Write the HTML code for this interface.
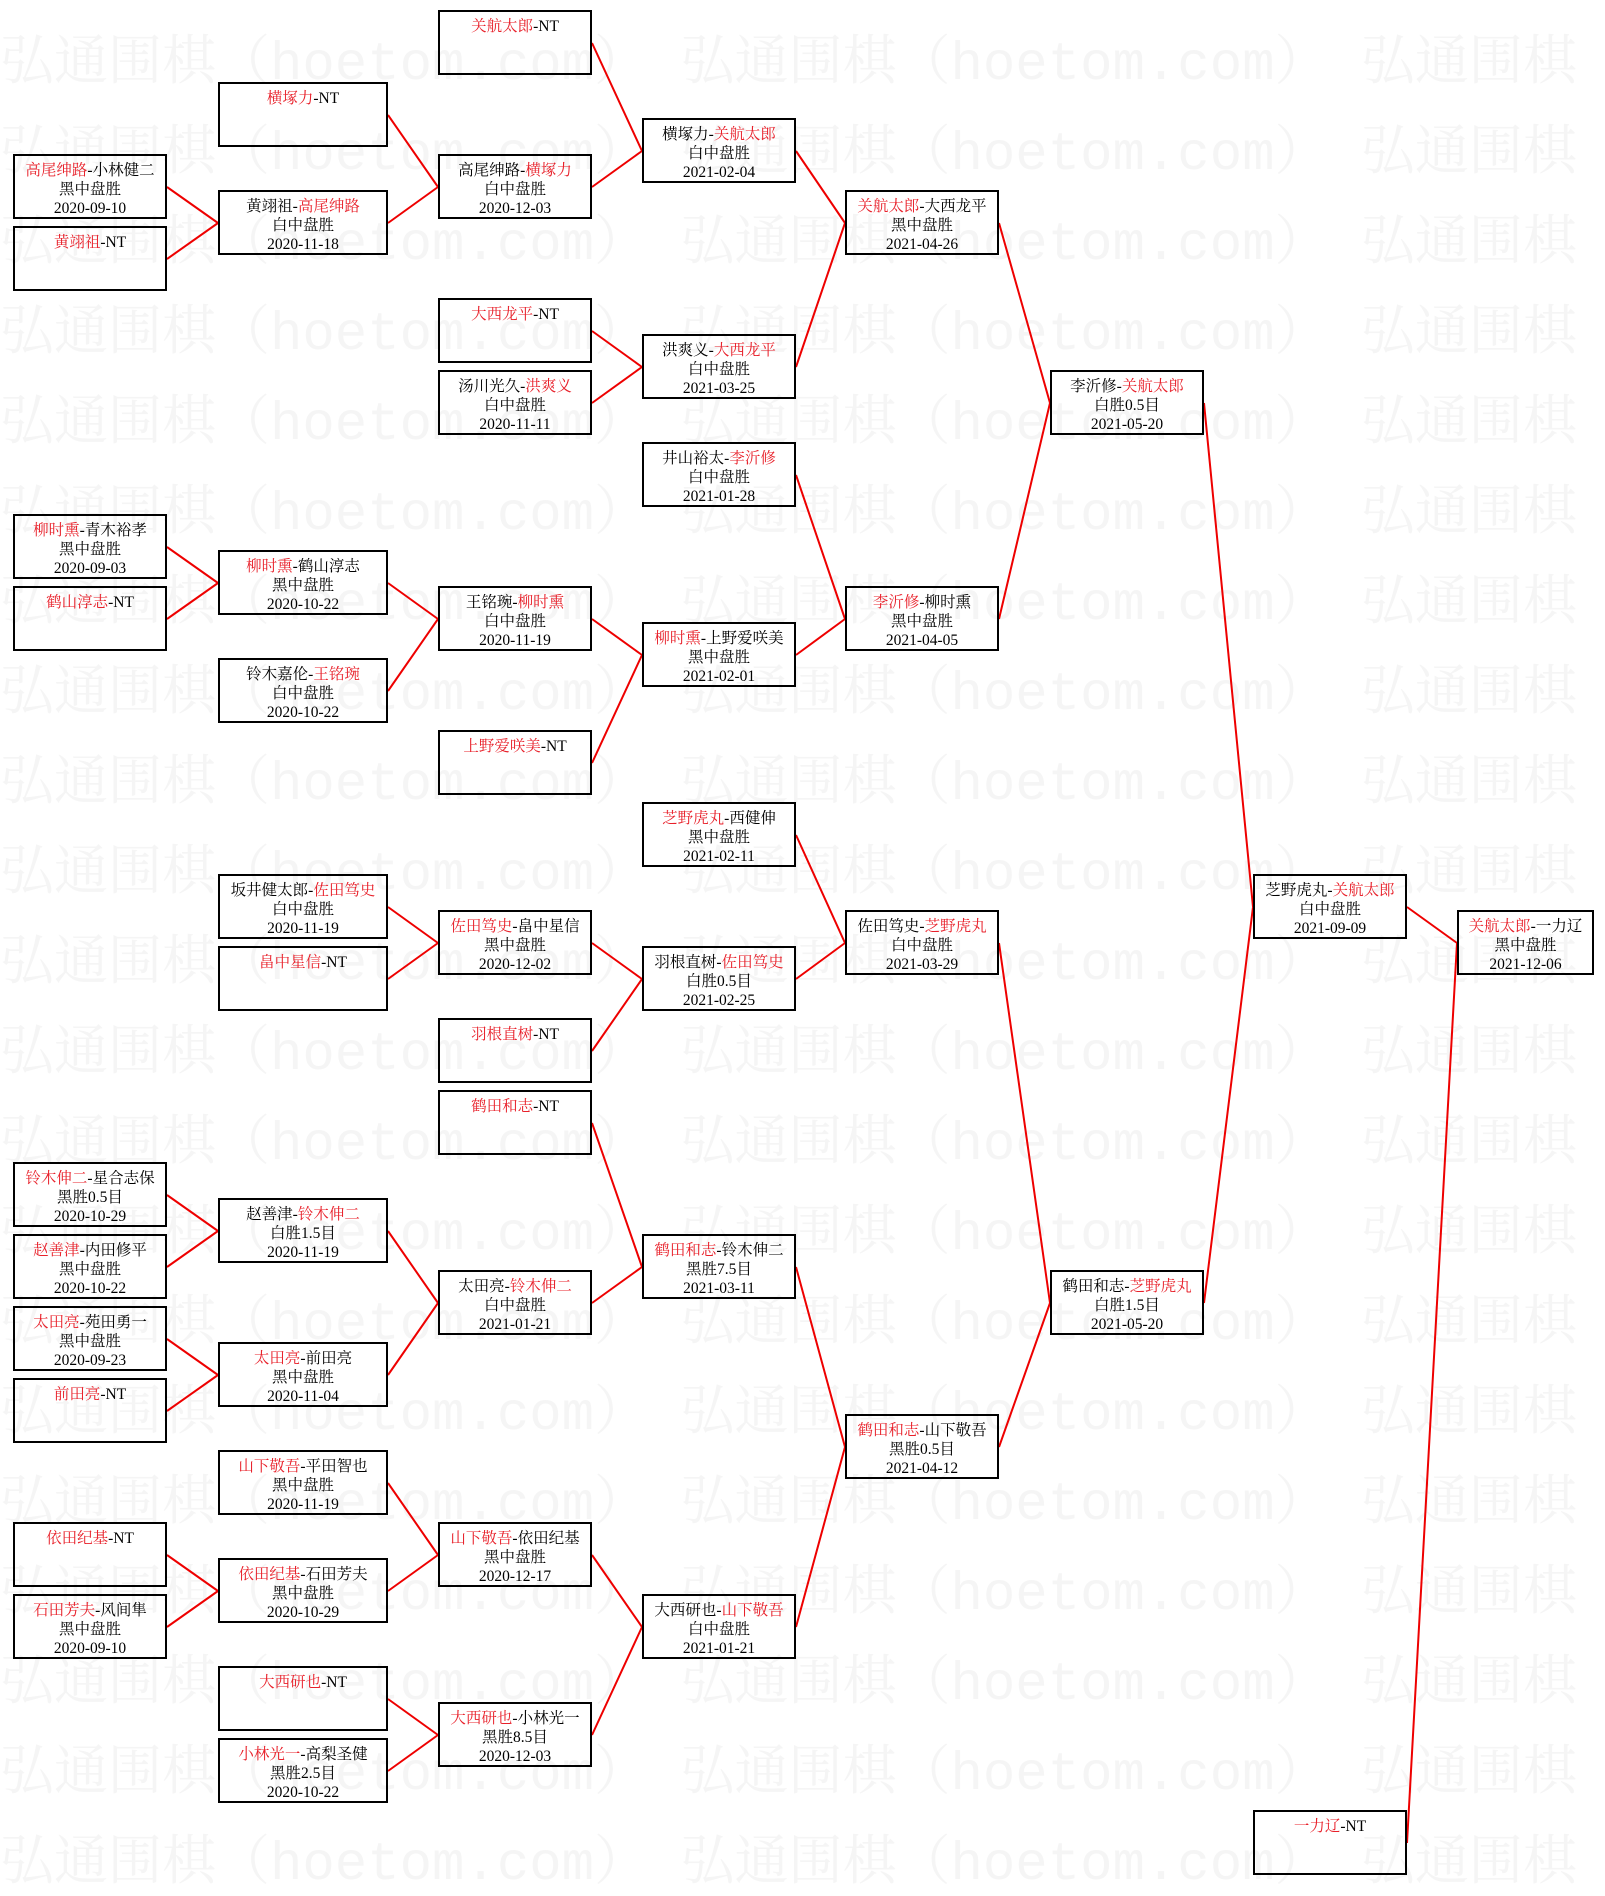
<!DOCTYPE html>
<html><head><meta charset="utf-8"><style>
body{margin:0;width:1605px;height:1885px;background:#fff;position:relative;overflow:hidden;font-family:"Liberation Serif","Noto Serif CJK SC",serif;}
.w{position:absolute;left:0;font-family:"Liberation Mono","Noto Serif CJK SC",monospace;font-size:54px;color:#f5f5f5;white-space:nowrap;line-height:60px;}
.b{position:absolute;width:150px;border:2px solid #000;text-align:center;font-size:15.5px;line-height:19px;padding-top:5px;height:56px;}
.b.n{width:133px}
.b.m{width:166px}
.r{color:#e8202a}
svg{position:absolute;left:0;top:0}
</style></head><body>
<div class="w" style="top:36px">弘通围棋（hoetom.com） 弘通围棋（hoetom.com） 弘通围棋（hoetom.com）</div>
<div class="w" style="top:126px">弘通围棋（hoetom.com） 弘通围棋（hoetom.com） 弘通围棋（hoetom.com）</div>
<div class="w" style="top:216px">弘通围棋（hoetom.com） 弘通围棋（hoetom.com） 弘通围棋（hoetom.com）</div>
<div class="w" style="top:306px">弘通围棋（hoetom.com） 弘通围棋（hoetom.com） 弘通围棋（hoetom.com）</div>
<div class="w" style="top:396px">弘通围棋（hoetom.com） 弘通围棋（hoetom.com） 弘通围棋（hoetom.com）</div>
<div class="w" style="top:486px">弘通围棋（hoetom.com） 弘通围棋（hoetom.com） 弘通围棋（hoetom.com）</div>
<div class="w" style="top:576px">弘通围棋（hoetom.com） 弘通围棋（hoetom.com） 弘通围棋（hoetom.com）</div>
<div class="w" style="top:666px">弘通围棋（hoetom.com） 弘通围棋（hoetom.com） 弘通围棋（hoetom.com）</div>
<div class="w" style="top:756px">弘通围棋（hoetom.com） 弘通围棋（hoetom.com） 弘通围棋（hoetom.com）</div>
<div class="w" style="top:846px">弘通围棋（hoetom.com） 弘通围棋（hoetom.com） 弘通围棋（hoetom.com）</div>
<div class="w" style="top:936px">弘通围棋（hoetom.com） 弘通围棋（hoetom.com） 弘通围棋（hoetom.com）</div>
<div class="w" style="top:1026px">弘通围棋（hoetom.com） 弘通围棋（hoetom.com） 弘通围棋（hoetom.com）</div>
<div class="w" style="top:1116px">弘通围棋（hoetom.com） 弘通围棋（hoetom.com） 弘通围棋（hoetom.com）</div>
<div class="w" style="top:1206px">弘通围棋（hoetom.com） 弘通围棋（hoetom.com） 弘通围棋（hoetom.com）</div>
<div class="w" style="top:1296px">弘通围棋（hoetom.com） 弘通围棋（hoetom.com） 弘通围棋（hoetom.com）</div>
<div class="w" style="top:1386px">弘通围棋（hoetom.com） 弘通围棋（hoetom.com） 弘通围棋（hoetom.com）</div>
<div class="w" style="top:1476px">弘通围棋（hoetom.com） 弘通围棋（hoetom.com） 弘通围棋（hoetom.com）</div>
<div class="w" style="top:1566px">弘通围棋（hoetom.com） 弘通围棋（hoetom.com） 弘通围棋（hoetom.com）</div>
<div class="w" style="top:1656px">弘通围棋（hoetom.com） 弘通围棋（hoetom.com） 弘通围棋（hoetom.com）</div>
<div class="w" style="top:1746px">弘通围棋（hoetom.com） 弘通围棋（hoetom.com） 弘通围棋（hoetom.com）</div>
<div class="w" style="top:1836px">弘通围棋（hoetom.com） 弘通围棋（hoetom.com） 弘通围棋（hoetom.com）</div>

<svg width="1605" height="1885" stroke="#e00" stroke-width="2" fill="none">
<path d="M167 187L218 223M167 259L218 223"/>
<path d="M167 547L218 583M167 619L218 583"/>
<path d="M167 1195L218 1231M167 1267L218 1231"/>
<path d="M167 1339L218 1375M167 1411L218 1375"/>
<path d="M167 1555L218 1591M167 1627L218 1591"/>
<path d="M388 115L438 187M388 223L438 187"/>
<path d="M388 583L438 619M388 691L438 619"/>
<path d="M388 907L438 943M388 979L438 943"/>
<path d="M388 1231L438 1303M388 1375L438 1303"/>
<path d="M388 1483L438 1555M388 1591L438 1555"/>
<path d="M388 1699L438 1735M388 1771L438 1735"/>
<path d="M592 43L642 151M592 187L642 151"/>
<path d="M592 331L642 367M592 403L642 367"/>
<path d="M592 619L642 655M592 763L642 655"/>
<path d="M592 943L642 979M592 1051L642 979"/>
<path d="M592 1123L642 1267M592 1303L642 1267"/>
<path d="M592 1555L642 1627M592 1735L642 1627"/>
<path d="M796 151L845 223M796 367L845 223"/>
<path d="M796 475L845 619M796 655L845 619"/>
<path d="M796 835L845 943M796 979L845 943"/>
<path d="M796 1267L845 1447M796 1627L845 1447"/>
<path d="M999 223L1050 403M999 619L1050 403"/>
<path d="M999 943L1050 1303M999 1447L1050 1303"/>
<path d="M1204 403L1253 907M1204 1303L1253 907"/>
<path d="M1407 907L1457 943M1407 1843L1457 943"/>
</svg>

<div class="b" style="left:13px;top:154px"><span class="r">高尾绅路</span>-小林健二<br>黑中盘胜<br>2020-09-10</div>
<div class="b" style="left:13px;top:226px"><span class="r">黄翊祖</span>-NT</div>
<div class="b" style="left:13px;top:514px"><span class="r">柳时熏</span>-青木裕孝<br>黑中盘胜<br>2020-09-03</div>
<div class="b" style="left:13px;top:586px"><span class="r">鹤山淳志</span>-NT</div>
<div class="b" style="left:13px;top:1162px"><span class="r">铃木伸二</span>-星合志保<br>黑胜0.5目<br>2020-10-29</div>
<div class="b" style="left:13px;top:1234px"><span class="r">赵善津</span>-内田修平<br>黑中盘胜<br>2020-10-22</div>
<div class="b" style="left:13px;top:1306px"><span class="r">太田亮</span>-苑田勇一<br>黑中盘胜<br>2020-09-23</div>
<div class="b" style="left:13px;top:1378px"><span class="r">前田亮</span>-NT</div>
<div class="b" style="left:13px;top:1522px"><span class="r">依田纪基</span>-NT</div>
<div class="b" style="left:13px;top:1594px"><span class="r">石田芳夫</span>-风间隼<br>黑中盘胜<br>2020-09-10</div>

<div class="b m" style="left:218px;top:82px"><span class="r">横塚力</span>-NT</div>
<div class="b m" style="left:218px;top:190px">黄翊祖-<span class="r">高尾绅路</span><br>白中盘胜<br>2020-11-18</div>
<div class="b m" style="left:218px;top:550px"><span class="r">柳时熏</span>-鹤山淳志<br>黑中盘胜<br>2020-10-22</div>
<div class="b m" style="left:218px;top:658px">铃木嘉伦-<span class="r">王铭琬</span><br>白中盘胜<br>2020-10-22</div>
<div class="b m" style="left:218px;top:874px">坂井健太郎-<span class="r">佐田笃史</span><br>白中盘胜<br>2020-11-19</div>
<div class="b m" style="left:218px;top:946px"><span class="r">畠中星信</span>-NT</div>
<div class="b m" style="left:218px;top:1198px">赵善津-<span class="r">铃木伸二</span><br>白胜1.5目<br>2020-11-19</div>
<div class="b m" style="left:218px;top:1342px"><span class="r">太田亮</span>-前田亮<br>黑中盘胜<br>2020-11-04</div>
<div class="b m" style="left:218px;top:1450px"><span class="r">山下敬吾</span>-平田智也<br>黑中盘胜<br>2020-11-19</div>
<div class="b m" style="left:218px;top:1558px"><span class="r">依田纪基</span>-石田芳夫<br>黑中盘胜<br>2020-10-29</div>
<div class="b m" style="left:218px;top:1666px"><span class="r">大西研也</span>-NT</div>
<div class="b m" style="left:218px;top:1738px"><span class="r">小林光一</span>-高梨圣健<br>黑胜2.5目<br>2020-10-22</div>

<div class="b" style="left:438px;top:10px"><span class="r">关航太郎</span>-NT</div>
<div class="b" style="left:438px;top:154px">高尾绅路-<span class="r">横塚力</span><br>白中盘胜<br>2020-12-03</div>
<div class="b" style="left:438px;top:298px"><span class="r">大西龙平</span>-NT</div>
<div class="b" style="left:438px;top:370px">汤川光久-<span class="r">洪爽义</span><br>白中盘胜<br>2020-11-11</div>
<div class="b" style="left:438px;top:586px">王铭琬-<span class="r">柳时熏</span><br>白中盘胜<br>2020-11-19</div>
<div class="b" style="left:438px;top:730px"><span class="r">上野爱咲美</span>-NT</div>
<div class="b" style="left:438px;top:910px"><span class="r">佐田笃史</span>-畠中星信<br>黑中盘胜<br>2020-12-02</div>
<div class="b" style="left:438px;top:1018px"><span class="r">羽根直树</span>-NT</div>
<div class="b" style="left:438px;top:1090px"><span class="r">鹤田和志</span>-NT</div>
<div class="b" style="left:438px;top:1270px">太田亮-<span class="r">铃木伸二</span><br>白中盘胜<br>2021-01-21</div>
<div class="b" style="left:438px;top:1522px"><span class="r">山下敬吾</span>-依田纪基<br>黑中盘胜<br>2020-12-17</div>
<div class="b" style="left:438px;top:1702px"><span class="r">大西研也</span>-小林光一<br>黑胜8.5目<br>2020-12-03</div>

<div class="b" style="left:642px;top:118px">横塚力-<span class="r">关航太郎</span><br>白中盘胜<br>2021-02-04</div>
<div class="b" style="left:642px;top:334px">洪爽义-<span class="r">大西龙平</span><br>白中盘胜<br>2021-03-25</div>
<div class="b" style="left:642px;top:442px">井山裕太-<span class="r">李沂修</span><br>白中盘胜<br>2021-01-28</div>
<div class="b" style="left:642px;top:622px"><span class="r">柳时熏</span>-上野爱咲美<br>黑中盘胜<br>2021-02-01</div>
<div class="b" style="left:642px;top:802px"><span class="r">芝野虎丸</span>-西健伸<br>黑中盘胜<br>2021-02-11</div>
<div class="b" style="left:642px;top:946px">羽根直树-<span class="r">佐田笃史</span><br>白胜0.5目<br>2021-02-25</div>
<div class="b" style="left:642px;top:1234px"><span class="r">鹤田和志</span>-铃木伸二<br>黑胜7.5目<br>2021-03-11</div>
<div class="b" style="left:642px;top:1594px">大西研也-<span class="r">山下敬吾</span><br>白中盘胜<br>2021-01-21</div>

<div class="b" style="left:845px;top:190px"><span class="r">关航太郎</span>-大西龙平<br>黑中盘胜<br>2021-04-26</div>
<div class="b" style="left:845px;top:586px"><span class="r">李沂修</span>-柳时熏<br>黑中盘胜<br>2021-04-05</div>
<div class="b" style="left:845px;top:910px">佐田笃史-<span class="r">芝野虎丸</span><br>白中盘胜<br>2021-03-29</div>
<div class="b" style="left:845px;top:1414px"><span class="r">鹤田和志</span>-山下敬吾<br>黑胜0.5目<br>2021-04-12</div>

<div class="b" style="left:1050px;top:370px">李沂修-<span class="r">关航太郎</span><br>白胜0.5目<br>2021-05-20</div>
<div class="b" style="left:1050px;top:1270px">鹤田和志-<span class="r">芝野虎丸</span><br>白胜1.5目<br>2021-05-20</div>

<div class="b" style="left:1253px;top:874px">芝野虎丸-<span class="r">关航太郎</span><br>白中盘胜<br>2021-09-09</div>
<div class="b" style="left:1253px;top:1810px"><span class="r">一力辽</span>-NT</div>

<div class="b n" style="left:1457px;top:910px"><span class="r">关航太郎</span>-一力辽<br>黑中盘胜<br>2021-12-06</div>
</body></html>
